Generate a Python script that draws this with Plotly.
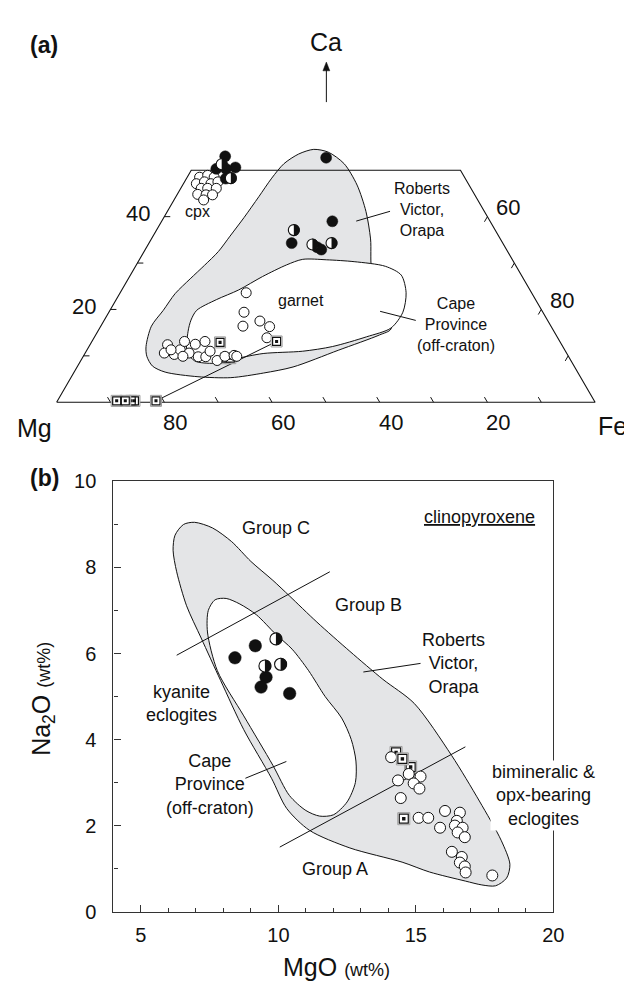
import math
import plotly.graph_objects as go

W, H = 632, 985
FONT = "Liberation Sans, Arial, Helvetica, sans-serif"
GRAY = "#e4e5e7"
INK = "#111111"

# =====================================================================
# Panel (a): Ca - Mg - Fe (atomic %), stored as (Ca, Fe); Mg = 100 - Ca - Fe
# =====================================================================
# clinopyroxene, Cape Province (open circles)
a_cpx_cape_ca = [48.5, 48.9, 48.5, 47.1, 47.5, 47.1, 47.5, 46.1, 46.1, 46.1, 44.8, 44.7, 44.7, 43.6]
a_cpx_cape_fe = [2.3, 3.6, 5.0, 2.4, 3.7, 5.1, 6.2, 3.8, 5.0, 6.6, 3.8, 5.4, 6.6, 5.5]
# clinopyroxene, kyanite eclogites (filled circles)
a_cpx_fill_ca = [53.0, 50.3, 50.6, 50.3, 48.2, 52.7, 39.0, 34.3, 33.4, 32.9]
a_cpx_fill_fe = [4.8, 4.5, 7.9, 6.3, 7.3, 23.7, 31.7, 26.5, 31.7, 32.7]
# clinopyroxene, half-filled circles
a_cpx_half_ca = [51.3, 48.3, 37.1, 34.0, 34.3]
a_cpx_half_fe = [5.0, 8.2, 25.5, 30.5, 33.9]
# garnet (open circles)
a_grt_ca = [23.6, 19.4, 16.4, 17.5, 16.3, 13.9, 12.4, 10.6, 10.3, 11.3, 13.1, 12.5,
            13.1, 10.6, 9.8, 9.8, 11.0, 9.0, 9.9, 10.1, 9.9, 9.9, 11.3]
a_grt_fe = [23.4, 25.1, 26.4, 29.0, 31.4, 32.1, 14.4, 14.7, 16.7, 17.3, 17.2, 19.5,
            21.0, 19.3, 21.4, 22.8, 23.0, 25.3, 26.3, 27.9, 28.5, 18.5, 15.6]
# garnet, opx-bearing eclogites (squares): first two lie beneath the circles
a_grt_sq_ca = [9.5, 9.5, 12.9, 13.1]
a_grt_sq_fe = [26.7, 27.5, 23.9, 34.3]
# orthopyroxene (squares on the Mg-Fe join): first two lie beneath
a_opx_ca = [0.3, 0.3, 0.3, 0.3, 0.3]
a_opx_fe = [14.3, 13.7, 12.6, 11.0, 18.3]
# opx - garnet tie line
a_tie_ca = [0.3, 13.1]
a_tie_fe = [18.3, 34.3]
# field: Roberts Victor, Orapa
a_rvo_ca = [12.0, 16.4, 19.8, 23.4, 26.6, 29.5, 32.5, 35.8, 39.8, 44.3, 48.3, 51.4, 53.5, 54.5,
            53.9, 51.4, 46.8, 41.1, 35.2, 27.8, 21.5, 15.8, 14.5, 11.2, 7.6, 6.3, 5.3, 5.5,
            6.5, 7.8, 9.9, 12.0]
a_rvo_fe = [10.6, 9.4, 9.9, 10.3, 11.5, 12.7, 13.8, 14.3, 14.9, 15.4, 15.8, 16.5, 18.2, 20.5,
            23.5, 27.7, 32.4, 36.9, 40.7, 44.7, 50.7, 54.2, 52.7, 46.7, 40.1, 35.3, 29.7, 23.5,
            16.9, 13.9, 11.8, 10.6]
# field: Cape Province (off-craton)
a_cape_ca = [11.0, 15.2, 17.7, 19.8, 22.1, 24.2, 27.1, 29.6, 30.8, 30.7, 30.3, 29.3, 27.4,
             23.6, 19.4, 16.0, 14.1, 12.0, 11.0, 10.5, 9.3, 8.4, 8.9, 11.0]
a_cape_fe = [18.7, 16.8, 16.1, 16.1, 18.6, 21.7, 24.7, 27.9, 30.3, 34.8, 40.1, 46.4, 50.3,
             53.1, 54.6, 54.1, 50.5, 45.2, 40.2, 33.1, 28.3, 25.1, 21.2, 18.7]
# axis ticks / labels of the truncated ternary
a_side_ticks = [10, 20, 30, 40]
a_base_ticks = [10, 20, 30, 40, 50, 60, 70, 80, 90]
a_left_labels = [20, 40]          # Ca
a_right_labels = [80, 60]         # Fe at Ca = 20, 40
a_base_labels = [80, 60, 40, 20]  # Mg

# =====================================================================
# Panel (b): clinopyroxene MgO vs Na2O (wt%)
# =====================================================================
b_fill_mgo = [8.42, 9.16, 9.55, 9.37, 10.41]
b_fill_na = [5.90, 6.18, 5.45, 5.22, 5.07]
b_half_mgo = [9.91, 9.51, 10.08]
b_half_na = [6.34, 5.71, 5.75]
b_open_mgo = [14.10, 14.74, 15.17, 14.35, 14.92, 15.13, 14.45, 15.10, 15.45, 16.06, 16.60, 16.49,
              15.88, 16.42, 16.70, 16.52, 16.78, 16.31, 16.67, 16.60, 16.78, 16.81, 17.78]
b_open_na = [3.59, 3.20, 3.14, 3.05, 2.98, 2.86, 2.64, 2.18, 2.18, 2.34, 2.30, 2.11,
             1.95, 2.00, 1.95, 1.84, 1.73, 1.39, 1.27, 1.14, 1.05, 0.91, 0.84]
b_sq_mgo = [14.28, 14.81, 14.51, 14.56]   # first two lie beneath the circles
b_sq_na = [3.70, 3.36, 3.55, 2.16]
b_rvo_mgo = [6.95, 7.6, 8.3, 9.0, 9.8, 10.4, 11.4, 12.6, 13.8, 14.94, 16.3, 17.31, 18.1, 18.42,
             18.3, 17.9, 17.4, 16.8, 15.5, 14.5, 12.6, 11.13, 10.3, 9.75, 8.74, 7.9, 7.19, 6.66,
             6.3, 6.17, 6.24, 6.55, 6.95]
b_rvo_na = [9.05, 8.92, 8.6, 8.14, 7.7, 7.34, 6.73, 6.05, 5.4, 4.84, 3.63, 2.57, 1.66, 1.1,
            0.78, 0.6, 0.62, 0.71, 0.92, 1.15, 1.48, 1.89, 2.4, 3.1, 4.23, 5.37, 6.36, 7.11,
            7.9, 8.4, 8.75, 9.0, 9.05]
b_cape_mgo = [8.1, 8.6, 9.2, 9.9, 10.5, 11.1, 11.7, 12.3, 12.65, 12.82, 12.8, 12.5, 12.0, 11.5,
              11.0, 10.4, 9.8, 8.74, 7.78, 7.42, 7.45, 7.7, 8.1]
b_cape_na = [7.28, 7.15, 6.9, 6.45, 6.1, 5.6, 5.0, 4.5, 4.0, 3.5, 3.0, 2.55, 2.25, 2.22,
             2.35, 2.7, 3.4, 4.55, 5.6, 6.5, 7.0, 7.25, 7.28]
b_div_bc_mgo = [6.3, 11.87]   # Group B / Group C divide
b_div_bc_na = [5.96, 7.9]
b_div_ab_mgo = [10.05, 16.8]  # Group A / Group B divide
b_div_ab_na = [1.5, 3.83]

# ---------------------------------------------------------------------
SQ3 = math.sqrt(3) / 2
X_A0, Y_A0, S_A = 49.5, 392.0, 5.48          # panel (a) frame: Mg corner px, px per %
B_X = (107.3, 555.0, 4.0, 20.0)              # panel (b) x: px0, px1, v0, v1
B_Y = (913.0, 473.0, 0.0, 10.0)              # panel (b) y: px0, px1, v0, v1
B_SX = (B_X[1] - B_X[0]) / (B_X[3] - B_X[2])  # px per unit
B_SY = (B_Y[0] - B_Y[1]) / (B_Y[3] - B_Y[2])


def proj(ca, fe):
    """ternary (Ca, Fe) -> cartesian (Fe + Ca/2, Ca*sqrt(3)/2)"""
    return [f + c / 2 for c, f in zip(ca, fe)], [c * SQ3 for c in ca]


def P(px, py):
    """pixel position -> paper coordinates"""
    return px / W, 1 - py / H


fig = go.Figure()

# ---------------- panel (a) traces ----------------
ax_kw = dict(xaxis="x", yaxis="y")
x, y = proj(a_rvo_ca, a_rvo_fe)
fig.add_trace(go.Scatter(x=x, y=y, mode="lines", fill="toself", fillcolor=GRAY,
                         line=dict(color=INK, width=1, shape="spline", smoothing=0.8), **ax_kw))
x, y = proj(a_cape_ca, a_cape_fe)
fig.add_trace(go.Scatter(x=x, y=y, mode="lines", fill="toself", fillcolor="white",
                         line=dict(color=INK, width=1, shape="spline", smoothing=0.8), **ax_kw))

# trapezoid frame
frame_ca = [0, 0, 50, 50, 0]
frame_fe = [0, 100, 50, 0, 0]
x, y = proj(frame_ca, frame_fe)
fig.add_trace(go.Scatter(x=x, y=y, mode="lines", line=dict(color=INK, width=1.1), **ax_kw))

# ticks
TL = 1.1  # tick length (axis units)
tx, ty = [], []
for c in a_side_ticks:
    (x0,), (y0,) = proj([c], [0])
    tx += [x0, x0 + TL, None]; ty += [y0, y0, None]
    (x1,), (y1,) = proj([c], [100 - c])
    tx += [x1, x1 - 0.5 * TL, None]; ty += [y1, y1 - SQ3 * TL, None]
for f in a_base_ticks:
    (x0,), (y0,) = proj([0], [f])
    tx += [x0, x0 - 0.5 * TL, None]; ty += [y0, y0 + SQ3 * TL, None]
fig.add_trace(go.Scatter(x=tx, y=ty, mode="lines", line=dict(color=INK, width=1), **ax_kw))

# tie line
x, y = proj(a_tie_ca, a_tie_fe)
fig.add_trace(go.Scatter(x=x, y=y, mode="lines", line=dict(color=INK, width=1), **ax_kw))


def squares(xs, ys, xa, ya, s):
    fig.add_trace(go.Scatter(x=xs, y=ys, mode="markers", xaxis=xa, yaxis=ya,
                             marker=dict(symbol="square", size=s + 3, color="white",
                                         line=dict(color="#9a9a9a", width=1))))
    fig.add_trace(go.Scatter(x=xs, y=ys, mode="markers", xaxis=xa, yaxis=ya,
                             marker=dict(symbol="square", size=s, color="white",
                                         line=dict(color=INK, width=1.2))))
    fig.add_trace(go.Scatter(x=xs, y=ys, mode="markers", xaxis=xa, yaxis=ya,
                             marker=dict(symbol="square", size=max(3, s * 0.38), color=INK,
                                         line=dict(width=0))))


def open_circles(xs, ys, xa, ya, s):
    fig.add_trace(go.Scatter(x=xs, y=ys, mode="markers", xaxis=xa, yaxis=ya,
                             marker=dict(symbol="circle", size=s, color="white",
                                         line=dict(color=INK, width=1))))


def filled(xs, ys, xa, ya, s):
    fig.add_trace(go.Scatter(x=xs, y=ys, mode="markers", xaxis=xa, yaxis=ya,
                             marker=dict(symbol="circle", size=s, color=INK,
                                         line=dict(color=INK, width=0.5))))


def half_filled(xs, ys, xa, ya, s, upx, upy):
    """white circle with the right half black; upx/upy = data units per pixel"""
    fig.add_trace(go.Scatter(x=xs, y=ys, mode="markers", xaxis=xa, yaxis=ya,
                             marker=dict(symbol="circle", size=s, color="white",
                                         line=dict(color=INK, width=1.1))))
    r = s / 2 + 0.3
    hx, hy = [], []
    for xc, yc in zip(xs, ys):
        for k in range(25):
            t = -math.pi / 2 + math.pi * k / 24
            hx.append(xc + r * math.cos(t) * upx)
            hy.append(yc + r * math.sin(t) * upy)
        hx.append(None); hy.append(None)
    fig.add_trace(go.Scatter(x=hx, y=hy, mode="lines", xaxis=xa, yaxis=ya, fill="toself",
                             fillcolor=INK, line=dict(color=INK, width=0.6)))


x, y = proj(a_opx_ca[:2], a_opx_fe[:2]); squares(x, y, "x", "y", 8)
x, y = proj(a_opx_ca[2:], a_opx_fe[2:]); squares(x, y, "x", "y", 8)
x, y = proj(a_grt_sq_ca[:2], a_grt_sq_fe[:2]); squares(x, y, "x", "y", 8)
x, y = proj(a_grt_ca, a_grt_fe); open_circles(x, y, "x", "y", 10)
x, y = proj(a_grt_sq_ca[2:], a_grt_sq_fe[2:]); squares(x, y, "x", "y", 8)
x, y = proj(a_cpx_cape_ca, a_cpx_cape_fe); open_circles(x, y, "x", "y", 10)
x, y = proj(a_cpx_fill_ca, a_cpx_fill_fe); filled(x, y, "x", "y", 11)
x, y = proj(a_cpx_half_ca, a_cpx_half_fe); half_filled(x, y, "x", "y", 11, 1 / S_A, 1 / S_A)

# ---------------- panel (b) traces ----------------
bk = dict(xaxis="x2", yaxis="y2")
fig.add_trace(go.Scatter(x=b_rvo_mgo, y=b_rvo_na, mode="lines", fill="toself", fillcolor=GRAY,
                         line=dict(color=INK, width=1, shape="spline", smoothing=0.8), **bk))
fig.add_trace(go.Scatter(x=b_cape_mgo, y=b_cape_na, mode="lines", fill="toself", fillcolor="white",
                         line=dict(color=INK, width=1, shape="spline", smoothing=0.8), **bk))
fig.add_trace(go.Scatter(x=b_div_bc_mgo, y=b_div_bc_na, mode="lines", line=dict(color=INK, width=1), **bk))
fig.add_trace(go.Scatter(x=b_div_ab_mgo, y=b_div_ab_na, mode="lines", line=dict(color=INK, width=1), **bk))
squares(b_sq_mgo[:2], b_sq_na[:2], "x2", "y2", 9)
open_circles(b_open_mgo, b_open_na, "x2", "y2", 11)
squares(b_sq_mgo[2:], b_sq_na[2:], "x2", "y2", 9)
filled(b_fill_mgo, b_fill_na, "x2", "y2", 12.5)
half_filled(b_half_mgo, b_half_na, "x2", "y2", 12, 1 / B_SX, 1 / B_SY)

annotations = []


def txt(px, py, s, size, bold=False, **kw):
    xp, yp = P(px, py)
    d = dict(x=xp, y=yp, xref="paper", yref="paper", text=("<b>%s</b>" % s) if bold else s,
             showarrow=False, font=dict(family=FONT, size=size, color=INK),
             xanchor="center", yanchor="middle")
    d.update(kw)
    annotations.append(d)


def ptxt(xv, yv, s, size, **kw):
    d = dict(x=xv, y=yv, xref="x2", yref="y2", text=s, showarrow=False,
             font=dict(family=FONT, size=size, color=INK), xanchor="center", yanchor="middle")
    d.update(kw)
    annotations.append(d)


# panel (a) labels
txt(37, 27, "(a)", 23, bold=True)
txt(324, 24, "Ca", 25)
txt(27, 418, "Mg", 25)
txt(615, 416, "Fe", 25)
for v in a_left_labels:
    (xv,), (yv,) = proj([v], [0])
    annotations.append(dict(x=xv, y=yv, xref="x", yref="y", text=str(v), showarrow=False,
                            font=dict(family=FONT, size=22, color=INK), xshift=-26, yshift=3))
for v, c in zip(a_right_labels, [20, 40]):
    (xv,), (yv,) = proj([c], [100 - c])
    annotations.append(dict(x=xv, y=yv, xref="x", yref="y", text=str(v), showarrow=False,
                            font=dict(family=FONT, size=22, color=INK), xshift=21, yshift=9))
for v in a_base_labels:
    (xv,), (yv,) = proj([0], [100 - v])
    annotations.append(dict(x=xv, y=yv, xref="x", yref="y", text=str(v), showarrow=False,
                            font=dict(family=FONT, size=22, color=INK), xshift=11, yshift=-20))
txt(193, 197, "cpx", 16)
txt(298, 288, "garnet", 16)
txt(421, 195, "Roberts<br>Victor,<br>Orapa", 16)
txt(456, 312, "Cape<br>Province<br>(off-craton)", 16)

# panel (b) labels
txt(37, 469, "(b)", 23, bold=True)
ptxt(17.33, 9.18, "<u>clinopyroxene</u>", 18)
ptxt(9.9, 8.92, "Group C", 18)
ptxt(13.28, 7.13, "Group B", 18)
ptxt(16.38, 5.77, "Roberts<br>Victor,<br>Orapa", 18)
ptxt(6.47, 4.83, "kyanite<br>eclogites", 18)
ptxt(7.5, 2.95, "Cape<br>Province<br>(off-craton)", 18)
ptxt(19.64, 2.7, "bimineralic &amp;<br>opx-bearing<br>eclogites", 18, bgcolor="white")
ptxt(12.06, 0.98, "Group A", 18)
txt(334, 970, "MgO <span style='font-size:18px'>(wt%)</span>", 25)
txt(36, 695, "Na<sub>2</sub>O <span style='font-size:18px'>(wt%)</span>", 25, textangle=-90)

# leader lines and the Ca arrow
shapes = []
for (x0, y0, x1, y1) in [(354.4, 206.7, 388.8, 196.7), (378.7, 299, 415, 308.3), (324, 85, 324, 50)]:
    a0, b0 = P(x0, y0); a1, b1 = P(x1, y1)
    shapes.append(dict(type="line", xref="paper", yref="paper", x0=a0, y0=b0, x1=a1, y1=b1,
                       line=dict(color=INK, width=1)))
h = [P(324, 44), P(320.5, 53), P(327.5, 53)]
shapes.append(dict(type="path", xref="paper", yref="paper",
                   path="M %f,%f L %f,%f L %f,%f Z" % (h[0][0], h[0][1], h[1][0], h[1][1], h[2][0], h[2][1]),
                   fillcolor=INK, line=dict(color=INK, width=0.5)))
for (x0, y0, x1, y1) in [(13.09, 5.57, 15.17, 5.77), (8.8, 3.1, 10.29, 3.49)]:
    shapes.append(dict(type="line", xref="x2", yref="y2", x0=x0, y0=y0, x1=x1, y1=y1,
                       line=dict(color=INK, width=1)))

# axes
axis_a = dict(visible=False, showgrid=False, zeroline=False, fixedrange=True)
fig.update_layout(
    width=W, height=H, margin=dict(l=0, r=0, t=0, b=0),
    paper_bgcolor="white", plot_bgcolor="rgba(0,0,0,0)", showlegend=False,
    xaxis=dict(axis_a, domain=[0, 1], range=[-X_A0 / S_A, (W - X_A0) / S_A]),
    yaxis=dict(axis_a, domain=[1 - 420 / H, 1], range=[(Y_A0 - 420) / S_A, Y_A0 / S_A]),
    xaxis2=dict(domain=[B_X[0] / W, B_X[1] / W], range=[B_X[2], B_X[3]], anchor="y2",
                showline=True, mirror=True, linecolor="#333", linewidth=1.2,
                ticks="inside", ticklen=7, tickcolor="#333", tickwidth=1.2,
                tick0=0, dtick=5, showgrid=False, zeroline=False,
                tickfont=dict(family=FONT, size=20, color=INK), ticklabelstandoff=5,
                minor=dict(ticks="inside", ticklen=4, dtick=1, tickcolor="#333", showgrid=False)),
    yaxis2=dict(domain=[1 - B_Y[0] / H, 1 - B_Y[1] / H], range=[B_Y[2], B_Y[3]], anchor="x2",
                showline=True, mirror=True, linecolor="#333", linewidth=1.2,
                ticks="inside", ticklen=7, tickcolor="#333", tickwidth=1.2,
                tick0=0, dtick=2, showgrid=False, zeroline=False,
                tickfont=dict(family=FONT, size=20, color=INK), ticklabelstandoff=12,
                minor=dict(ticks="inside", ticklen=4, dtick=1, tickcolor="#333", showgrid=False)),
    annotations=annotations, shapes=shapes,
)

fig.write_html("out.html")
